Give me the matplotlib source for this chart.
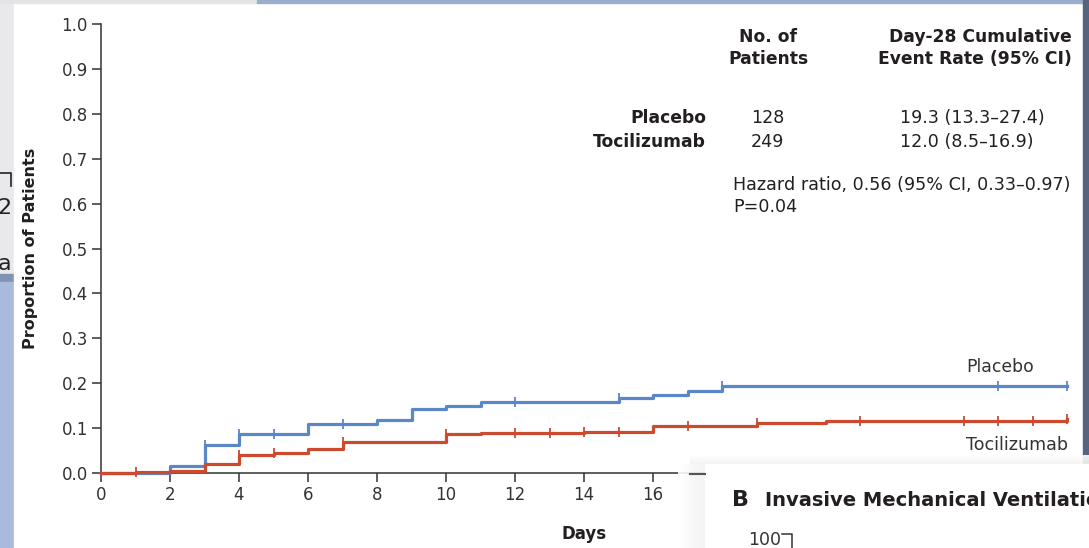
import numpy as np
import matplotlib
matplotlib.use('Agg')
import matplotlib.pyplot as plt
from matplotlib.patches import Rectangle

plt.rcParams['font.family'] = ['DejaVu Sans']

# Kaplan-Meier cumulative event curves (step-post)
placebo_days = [0, 2, 3, 4, 6, 8, 9, 10, 11, 15, 16, 17, 18, 28]
placebo_rate = [0.0, 0.015, 0.062, 0.086, 0.110, 0.118, 0.142, 0.150, 0.158,
                0.166, 0.174, 0.183, 0.193, 0.193]
placebo_censor = [3, 4, 5, 7, 12, 15, 18, 26, 28]

toci_days = [0, 1, 2, 3, 4, 5, 6, 7, 10, 11, 14, 16, 19, 21, 28]
toci_rate = [0.0, 0.002, 0.004, 0.020, 0.040, 0.044, 0.054, 0.068, 0.086,
             0.089, 0.092, 0.105, 0.111, 0.116, 0.120]
toci_censor = [1, 4, 5, 7, 10, 12, 13, 14, 15, 17, 19, 22, 25, 26, 27, 28]

x_ticks = list(range(0, 17, 2))
y_ticks = [round(0.1 * i, 1) for i in range(11)]

groups = ['Placebo', 'Tocilizumab']
n_patients = ['128', '249']
day28_rate = ['19.3 (13.3\u201327.4)', '12.0 (8.5\u201316.9)']

BLUE = '#5a87c8'
RED = '#cc4a2d'
INK = '#231f20'
AXC = '#333333'

W, H = 1089, 548
fig = plt.figure(figsize=(W / 100, H / 100), dpi=100)
fig.patch.set_facecolor('white')


def frac(x, y):
    return x / W, 1 - y / H


# --- background layer in pixel coordinates ---
bg = fig.add_axes([0, 0, 1, 1], zorder=0)
bg.set_xlim(0, W)
bg.set_ylim(H, 0)
bg.axis('off')

bg.add_patch(Rectangle((0, 0), 14, 274, color='#e9e9eb', zorder=1))
bg.add_patch(Rectangle((0, 274), 14, 8, color='#8193b3', zorder=1))
bg.add_patch(Rectangle((0, 282), 14, 266, color='#a8bbdc', zorder=1))
bg.plot([0, 11, 11], [173, 173, 186], color='#222', lw=1.2, zorder=1.5)
bg.text(-3, 214, '2', fontsize=16, color='#222', zorder=1.5)
bg.text(-2, 270, 'a', fontsize=16, color='#222', zorder=1.5)
bg.add_patch(Rectangle((14, 3), 1069, 545, color='white', zorder=2))
bg.add_patch(Rectangle((0, 0), 257, 3, color='#e4e4e4', zorder=3))
bg.add_patch(Rectangle((257, 0), W - 257, 3, color='#9badcd', zorder=3))
bg.add_patch(Rectangle((1083, 0), 6, 464, color='#56647f', zorder=3))

# table of numbers
bfont = dict(fontsize=12.3, fontweight='bold', color=INK)
rfont = dict(fontsize=12.6, color=INK)
bg.text(768, 42, 'No. of', ha='center', va='baseline', **bfont, zorder=4)
bg.text(768, 64, 'Patients', ha='center', va='baseline', **bfont, zorder=4)
bg.text(1072, 42, 'Day-28 Cumulative', ha='right', va='baseline', **bfont, zorder=4)
bg.text(1072, 64, 'Event Rate (95% CI)', ha='right', va='baseline', **bfont, zorder=4)
for i, g in enumerate(groups):
    yb = 123 + 24 * i
    bg.text(706, yb, g, ha='right', va='baseline', **bfont, zorder=4)
    bg.text(751, yb, n_patients[i], ha='left', va='baseline', **rfont, zorder=4)
    bg.text(900, yb, day28_rate[i], ha='left', va='baseline', **rfont, zorder=4)
bg.text(733, 190, 'Hazard ratio, 0.56 (95% CI, 0.33\u20130.97)', ha='left',
        va='baseline', **rfont, zorder=4)
bg.text(733, 212, 'P=0.04', ha='left', va='baseline', **rfont, zorder=4)

# --- main plot ---
ax = fig.add_axes([*frac(101, 473), 966 / W, 449 / H], zorder=1)
ax.patch.set_alpha(0)
ax.set_xlim(0, 28)
ax.set_ylim(0, 1.0)

ax.step(placebo_days, placebo_rate, where='post', color=BLUE, lw=2.3,
        clip_on=False, zorder=3)
ax.step(toci_days, toci_rate, where='post', color=RED, lw=2.3,
        clip_on=False, zorder=4)


def at_day(days, rate, d):
    idx = np.searchsorted(days, d, side='right') - 1
    return rate[idx]


ax.plot(placebo_censor, [at_day(placebo_days, placebo_rate, d) for d in placebo_censor],
        ls='none', marker='|', ms=7, mew=1.3, color=BLUE, clip_on=False, zorder=3)
ax.plot(toci_censor, [at_day(toci_days, toci_rate, d) for d in toci_censor],
        ls='none', marker='|', ms=7, mew=1.3, color=RED, clip_on=False, zorder=4)

ax.text(26.07, 0.236, 'Placebo', ha='center', va='center', fontsize=12.4, color=AXC)
ax.text(26.55, 0.062, 'Tocilizumab', ha='center', va='center', fontsize=12.6, color=AXC)

for s in ['top', 'right']:
    ax.spines[s].set_visible(False)
for s in ['left', 'bottom']:
    ax.spines[s].set_color(AXC)
    ax.spines[s].set_linewidth(1.1)
ax.set_xticks(x_ticks)
ax.set_yticks(y_ticks)
ax.set_yticklabels([f'{v:.1f}' for v in y_ticks])
ax.tick_params(axis='both', direction='out', length=6.5, width=1.1, color=AXC,
               labelcolor=AXC, labelsize=12, pad=3)
ax.set_xlabel('Days', fontsize=12, fontweight='bold', color=INK, labelpad=15)
ax.set_ylabel('Proportion of Patients', fontsize=11.5, fontweight='bold',
              color=INK, labelpad=17)

# --- overlapping panel at lower right ---
ov = fig.add_axes([0, 0, 1, 1], zorder=2)
ov.set_xlim(0, W)
ov.set_ylim(H, 0)
ov.axis('off')
ov.patch.set_alpha(0)
grad_h = np.linspace(0, 1, 20).reshape(-1, 1)
ov.imshow(grad_h, cmap='Greys', vmin=0, vmax=9, extent=(690, W, 464, 455),
          aspect='auto', alpha=0.9, zorder=1)
grad_v = np.linspace(0, 1, 20).reshape(1, -1)
ov.imshow(grad_v, cmap='Greys', vmin=0, vmax=9, extent=(678, 705, H, 464),
          aspect='auto', alpha=0.9, zorder=1)
ov.add_patch(Rectangle((705, 464), W - 705, H - 464, color='white', zorder=2))
ov.plot([690, 705], [474, 474], color='#555', lw=1.5, zorder=3)
ov.text(732, 506, 'B', fontsize=16, fontweight='bold', color=INK, va='baseline', zorder=3)
ov.text(765, 506, 'Invasive Mechanical Ventilation', fontsize=14,
        fontweight='bold', color=INK, va='baseline', zorder=3)
ov.text(781, 545, '100', fontsize=12.5, color=AXC, ha='right', va='baseline', zorder=3)
ov.plot([782, 792, 792], [534, 534, H], color=AXC, lw=1.1, zorder=3)
ov.set_xlim(0, W)
ov.set_ylim(H, 0)

fig.savefig('out.png', dpi=100, facecolor='white')
